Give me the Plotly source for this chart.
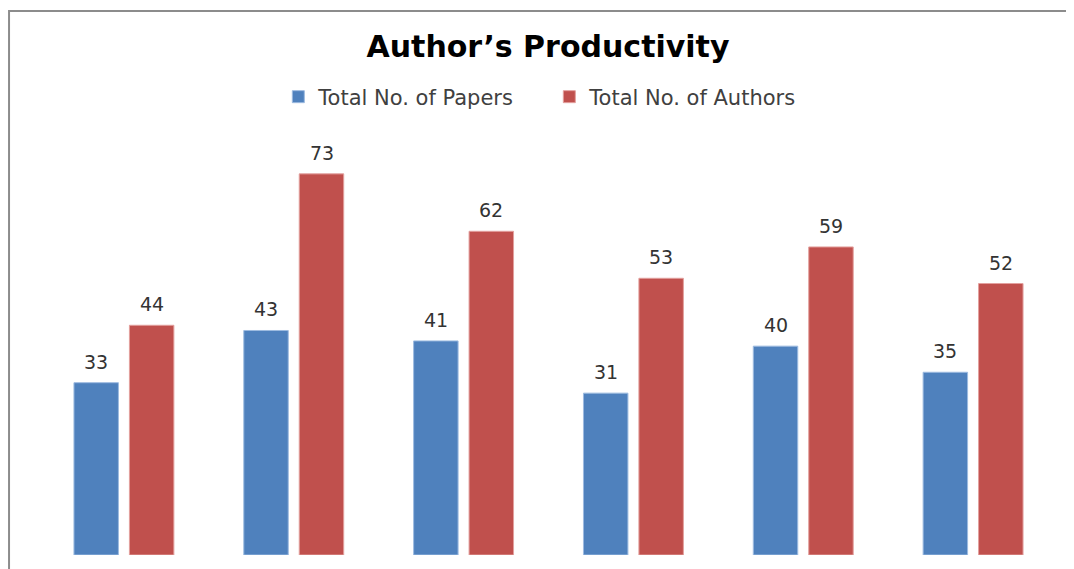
import plotly.graph_objects as go

categories = ["Group A", "Group B", "Group C", "Group D", "Group E", "Group F"]
papers = [33, 43, 41, 31, 40, 35]
authors = [44, 73, 62, 53, 59, 52]

label_font = dict(family="DejaVu Sans", size=19, color="#333333")

fig = go.Figure()
fig.add_trace(go.Bar(
    x=categories, y=papers, name="Total No. of Papers",
    marker=dict(color="#4F81BD", line=dict(color="#9DBBE0", width=1)),
))
fig.add_trace(go.Bar(
    x=categories, y=authors, name="Total No. of Authors",
    marker=dict(color="#C0504D", line=dict(color="#E3A09E", width=1)),
))

annotations = []
for series, shift in ((papers, -27.75), (authors, 27.75)):
    for c, v in zip(categories, series):
        annotations.append(dict(x=c, y=v, xref="x", yref="y", text=str(v),
                                showarrow=False, xanchor="center", yanchor="bottom",
                                xshift=shift, yshift=8, font=label_font))

fig.update_layout(
    width=1074, height=569,
    margin=dict(l=31, r=23.5, t=122, b=22),
    paper_bgcolor="white", plot_bgcolor="white",
    barmode="group", bargap=0.347, bargroupgap=0.198,
    title=dict(text="<b>Author’s Productivity</b>", x=0.5028, xanchor="center",
               y=0.9315, yanchor="middle",
               font=dict(family="DejaVu Sans", size=30, color="black")),
    legend=dict(orientation="h", x=0.5008, xanchor="center", y=1.0776, yanchor="middle",
                font=dict(family="DejaVu Sans", size=21, color="#404040"),
                itemwidth=30, entrywidth=226, entrywidthmode="pixels",
                traceorder="normal"),
    showlegend=True,
    annotations=annotations,
    xaxis=dict(type="category", range=[-0.5, 5.5], showticklabels=False, showgrid=False,
               zeroline=False, showline=False, ticks=""),
    yaxis=dict(range=[0, 81.4], showticklabels=False, showgrid=False, zeroline=False,
               showline=False, ticks=""),
    shapes=[dict(type="rect", xref="paper", yref="paper",
                 x0=-0.0294, x1=1.2, y0=-0.2, y1=1.28,
                 line=dict(color="#8C8C8C", width=2), layer="below")],
)

fig.write_html("out.html")
